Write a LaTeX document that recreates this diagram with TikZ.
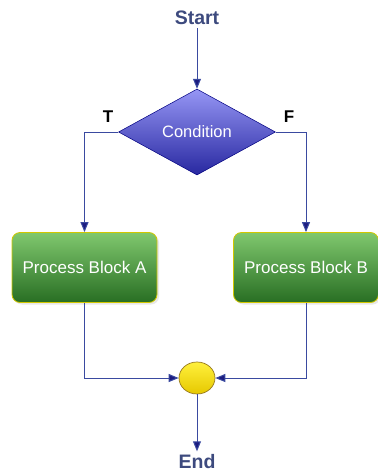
\documentclass[tikz,border=0pt]{standalone}
\usepackage{fontspec}
\setmainfont{Liberation Sans}
\usetikzlibrary{shapes.geometric,arrows.meta,shadows}
\definecolor{linec}{HTML}{3A4AA0}
\definecolor{tipc}{HTML}{1C1C80}
\definecolor{labc}{HTML}{3D4A7E}
\definecolor{gtop}{RGB}{128,200,110}
\definecolor{gbot}{RGB}{40,110,35}
\tikzset{
  conn/.style={draw=linec, line width=1pt, -{Triangle[length=10pt,width=8pt,fill=tipc]}},
  procbox/.style={rectangle, rounded corners=8pt, minimum width=145pt, minimum height=70pt,
    top color=gtop, bottom color=gbot,
    draw=yellow!60!olive, line width=0.8pt, text=white, font=\fontsize{17}{19}\selectfont,
    drop shadow={opacity=0.18, shadow xshift=2pt, shadow yshift=-2pt}},
  decbox/.style={diamond, minimum width=157pt, minimum height=86pt, inner sep=0pt,
    top color={rgb,255:red,150;green,150;blue,245}, bottom color={rgb,255:red,40;green,40;blue,160},
    draw=blue!50!black, line width=0.5pt, text=white, font=\fontsize{16.5}{18}\selectfont},
  term/.style={text=labc, font=\bfseries\fontsize{19.5}{21}\selectfont},
  tf/.style={text=black, font=\bfseries\fontsize{17}{19}\selectfont}
}
\begin{document}
\begin{tikzpicture}[x=1pt,y=-1pt]
\useasboundingbox (0,0) rectangle (378,472);
\node[term] (start) at (197,18) {Start};
\node[decbox] (cond) at (197,132) {Condition};
\node[procbox] (pa) at (84.5,267.5) {Process Block A};
\node[procbox] (pb) at (306,267.5) {Process Block B};
\node[ellipse, minimum width=36pt, minimum height=32pt, inner sep=0pt,
  top color={rgb,255:red,255;green,240;blue,60}, bottom color={rgb,255:red,230;green,200;blue,0},
  draw={rgb,255:red,150;green,120;blue,30}, line width=0.7pt] (join) at (197,378) {};
\node[term] (end) at (197,462) {End};
\node[tf] (t) at (108,117) {T};
\node[tf] (f) at (289,117) {F};
\draw[conn] (start.south) -- (cond.north);
\draw[conn] (cond.west) -| (pa.north);
\draw[conn] (cond.east) -| (pb.north);
\draw[conn] (pa.south) |- (join.west);
\draw[conn] (pb.south) |- (join.east);
\draw[conn] (join.south) -- (end.north);
\end{tikzpicture}
\end{document}
